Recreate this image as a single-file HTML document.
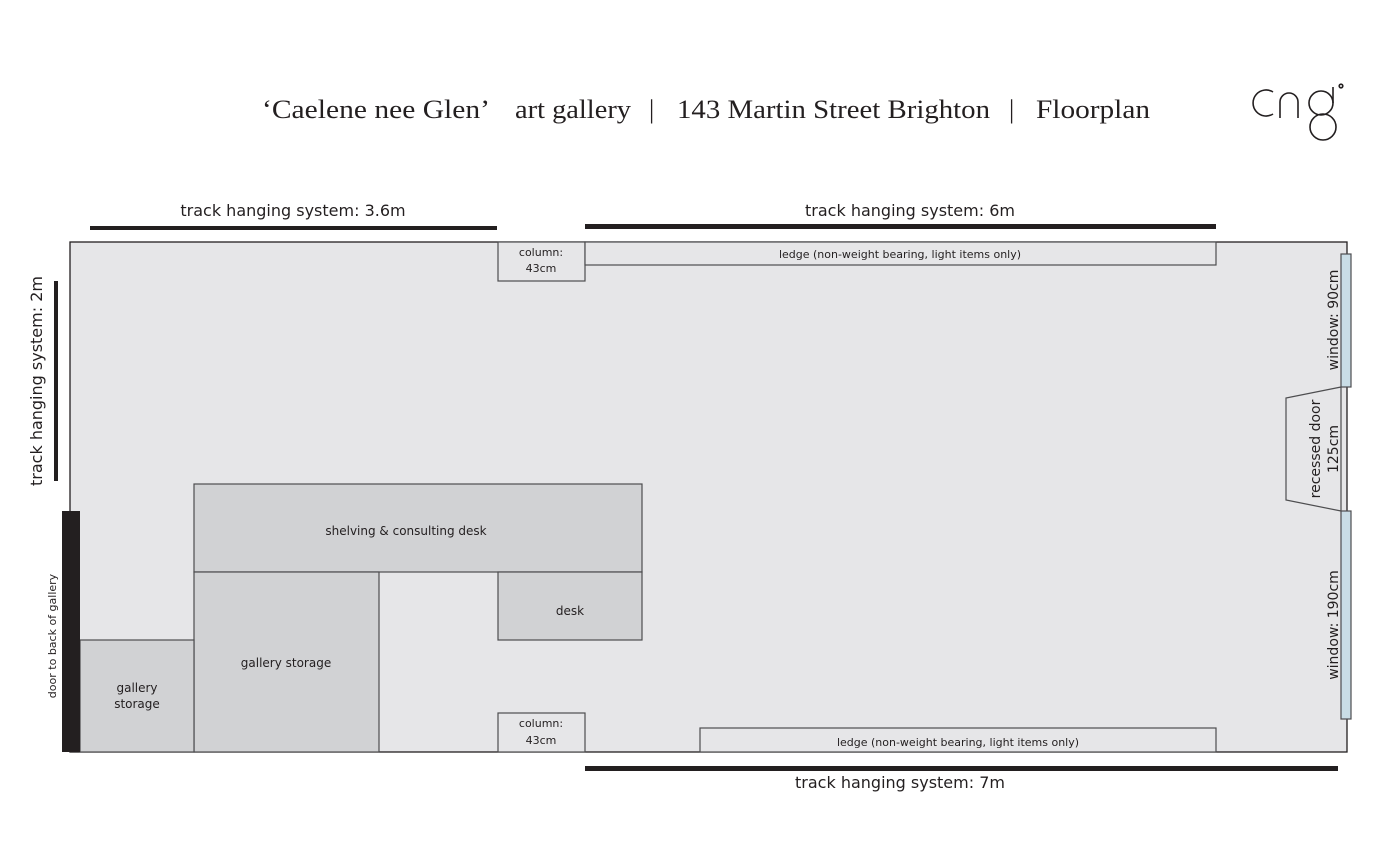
<!DOCTYPE html>
<html><head><meta charset="utf-8"><style>
html,body{margin:0;padding:0;background:#fff;}
svg{display:block}
.s{font-family:"DejaVu Sans","Liberation Sans",sans-serif;fill:#231f20}
.t{font-family:"Liberation Serif",serif;fill:#231f20}
</style></head><body>
<svg width="1395" height="853" viewBox="0 0 1395 853" xmlns="http://www.w3.org/2000/svg">
<g class="t" font-size="26">
<text x="262" y="118" textLength="228" lengthAdjust="spacingAndGlyphs">‘Caelene nee Glen’</text>
<text x="515" y="118" textLength="116" lengthAdjust="spacingAndGlyphs">art gallery</text>
<text x="649" y="118">|</text>
<text x="677" y="118" textLength="313" lengthAdjust="spacingAndGlyphs">143 Martin Street Brighton</text>
<text x="1009" y="118">|</text>
<text x="1036" y="118" textLength="114" lengthAdjust="spacingAndGlyphs">Floorplan</text>
</g>
<!-- logo -->
<g fill="none" stroke="#231f20" stroke-width="1.6">
<path d="M1273 92 A13 13 0 1 0 1273 114"/>
<path d="M1280 118 V102 A9 9 0 0 1 1298 102 V118"/>
<circle cx="1321" cy="103" r="12"/>
<path d="M1333 103 V87"/>
<circle cx="1323" cy="127" r="13"/>
<circle cx="1341" cy="86" r="1.8"/>
</g>
<!-- floor -->
<rect x="70" y="242" width="1277" height="510" fill="#e6e6e8" stroke="#231f20" stroke-width="1.3"/>
<g fill="#d1d2d4" stroke="#4d4d4f" stroke-width="1.2">
<rect x="194" y="484" width="448" height="88"/>
<rect x="194" y="572" width="185" height="180"/>
<rect x="498" y="572" width="144" height="68"/>
<rect x="80" y="640" width="114" height="112"/>
</g>
<g fill="#e6e6e8" stroke="#4d4d4f" stroke-width="1.2">
<rect x="498" y="242" width="87" height="39"/>
<rect x="585" y="242" width="631" height="23"/>
<rect x="498" y="713" width="87" height="39"/>
<rect x="700" y="728" width="516" height="24"/>
<polygon points="1341,387 1286,398 1286,500 1341,511"/>
</g>
<g fill="#c9dde6" stroke="#4d4d4f" stroke-width="1.2">
<rect x="1341" y="254" width="10" height="133"/>
<rect x="1341" y="511" width="10" height="208"/>
</g>
<rect x="62" y="511" width="18" height="241" fill="#231f20"/>
<g fill="#231f20">
<rect x="90" y="226" width="407" height="4"/>
<rect x="585" y="224" width="631" height="5"/>
<rect x="585" y="766" width="753" height="5"/>
<rect x="54" y="281" width="4" height="200"/>
</g>
<g class="s">
<text x="293" y="216" font-size="16" text-anchor="middle">track hanging system: 3.6m</text>
<text x="910" y="216" font-size="16" text-anchor="middle">track hanging system: 6m</text>
<text x="900" y="788" font-size="16" text-anchor="middle">track hanging system: 7m</text>
<text transform="translate(42,381) rotate(-90)" font-size="16" text-anchor="middle">track hanging system: 2m</text>
<text x="541" y="256" font-size="11" text-anchor="middle">column:</text>
<text x="541" y="272" font-size="11" text-anchor="middle">43cm</text>
<text x="541" y="727" font-size="11" text-anchor="middle">column:</text>
<text x="541" y="744" font-size="11" text-anchor="middle">43cm</text>
<text x="900" y="258" font-size="11" text-anchor="middle">ledge (non-weight bearing, light items only)</text>
<text x="958" y="746" font-size="11" text-anchor="middle">ledge (non-weight bearing, light items only)</text>
<text x="406" y="535" font-size="12" text-anchor="middle">shelving &amp; consulting desk</text>
<text x="570" y="615" font-size="12" text-anchor="middle">desk</text>
<text x="286" y="667" font-size="12" text-anchor="middle">gallery storage</text>
<text x="137" y="692" font-size="12" text-anchor="middle">gallery</text>
<text x="137" y="708" font-size="12" text-anchor="middle">storage</text>
<text transform="translate(56,636) rotate(-90)" font-size="11" text-anchor="middle">door to back of gallery</text>
<text transform="translate(1338,320) rotate(-90)" font-size="14" text-anchor="middle">window: 90cm</text>
<text transform="translate(1338,625) rotate(-90)" font-size="14" text-anchor="middle">window: 190cm</text>
<text transform="translate(1320,449) rotate(-90)" font-size="14" text-anchor="middle">recessed door</text>
<text transform="translate(1338,449) rotate(-90)" font-size="14" text-anchor="middle">125cm</text>
</g>
</svg>
</body></html>
